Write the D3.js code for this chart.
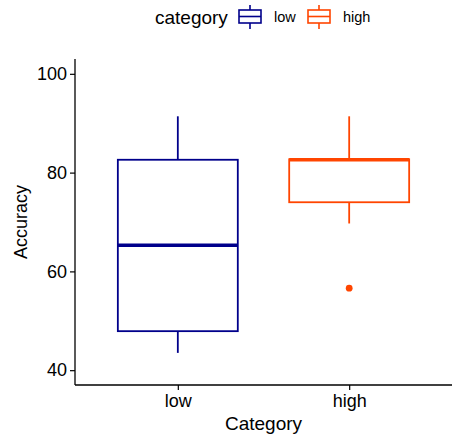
<!DOCTYPE html>
<html>
<head>
<meta charset="utf-8">
<script src="https://cdn.jsdelivr.net/npm/d3@7"></script>
<style>
  body { margin: 0; background: white; }
  text { font-family: "Liberation Sans", Arial, sans-serif; fill: black; }
</style>
</head>
<body>
<svg id="chart" width="454" height="436"></svg>
<script>
// data
var categories = ['low', 'high'];
var colors = ['#00008B', '#FF4500'];
var whiskerLow = [43.5, 69.7];
var q1 = [47.9, 74.0];
var medians = [65.3, 82.6];
var q3 = [82.6, 82.7];
var whiskerHigh = [91.4, 91.4];
var outliers = [[], [56.6]];
var yTicks = [40, 60, 80, 100];

var svg = d3.select('svg#chart');

var mLeft = 75, mRight = 452, mTop = 59, mBottom = 385;

var x = d3.scalePoint()
  .domain(categories)
  .range([mLeft, mRight])
  .padding(0.6);

var y = d3.scaleLinear()
  .domain([37, 103])
  .range([mBottom, mTop]);

var boxWidth = x.step() * 0.7;

var boxes = categories.map(function (c, i) {
  return {
    cat: c, color: colors[i], lo: whiskerLow[i], q1: q1[i], med: medians[i],
    q3: q3[i], hi: whiskerHigh[i], out: outliers[i]
  };
});

var g = svg.selectAll('g.box')
  .data(boxes)
  .enter()
  .append('g')
    .attr('class', 'box');

// whiskers
g.append('line')
  .attr('x1', function (d) { return x(d.cat); })
  .attr('x2', function (d) { return x(d.cat); })
  .attr('y1', function (d) { return y(d.hi); })
  .attr('y2', function (d) { return y(d.q3); })
  .style('stroke', function (d) { return d.color; })
  .style('stroke-width', 1.8);

g.append('line')
  .attr('x1', function (d) { return x(d.cat); })
  .attr('x2', function (d) { return x(d.cat); })
  .attr('y1', function (d) { return y(d.q1); })
  .attr('y2', function (d) { return y(d.lo); })
  .style('stroke', function (d) { return d.color; })
  .style('stroke-width', 1.8);

g.append('rect')
  .attr('x', function (d) { return x(d.cat) - boxWidth / 2; })
  .attr('width', boxWidth)
  .attr('y', function (d) { return y(d.q3); })
  .attr('height', function (d) { return y(d.q1) - y(d.q3); })
  .style('fill', 'white')
  .style('stroke', function (d) { return d.color; })
  .style('stroke-width', 1.8);

g.append('line')
  .attr('x1', function (d) { return x(d.cat) - boxWidth / 2; })
  .attr('x2', function (d) { return x(d.cat) + boxWidth / 2; })
  .attr('y1', function (d) { return y(d.med); })
  .attr('y2', function (d) { return y(d.med); })
  .style('stroke', function (d) { return d.color; })
  .style('stroke-width', 3.4);

g.selectAll('circle')
  .data(function (d) { return d.out.map(function (v) { return {v: v, cat: d.cat, color: d.color}; }); })
  .enter()
  .append('circle')
    .attr('cx', function (d) { return x(d.cat); })
    .attr('cy', function (d) { return y(d.v); })
    .attr('r', 3.4)
    .style('fill', function (d) { return d.color; });

// axes
var yAxis = svg.append('g')
  .attr('transform', 'translate(' + mLeft + ',0)')
  .call(d3.axisLeft(y).tickValues(yTicks).tickSize(5).tickPadding(3));

var xAxis = svg.append('g')
  .attr('transform', 'translate(0,' + mBottom + ')')
  .call(d3.axisBottom(x).tickSize(5).tickPadding(4));

[yAxis, xAxis].forEach(function (a) {
  a.select('.domain').remove();
  a.selectAll('line').style('stroke', 'black').style('stroke-width', 1.2);
  a.selectAll('text').style('font-size', '18px').style('fill', 'black');
});

svg.append('line')
  .attr('x1', mLeft).attr('x2', mLeft)
  .attr('y1', mTop).attr('y2', mBottom)
  .style('stroke', 'black').style('stroke-width', 1.3);
svg.append('line')
  .attr('x1', mLeft).attr('x2', mRight)
  .attr('y1', mBottom).attr('y2', mBottom)
  .style('stroke', 'black').style('stroke-width', 1.3);

svg.append('text')
  .attr('x', (mLeft + mRight) / 2)
  .attr('y', 430)
  .attr('text-anchor', 'middle')
  .style('font-size', '19px')
  .text('Category');

svg.append('text')
  .attr('transform', 'translate(27,' + (mTop + mBottom) / 2 + ') rotate(-90)')
  .attr('text-anchor', 'middle')
  .style('font-size', '18px')
  .text('Accuracy');

// legend
var legend = svg.append('g');

legend.append('text')
  .attr('x', 155)
  .attr('y', 24)
  .style('font-size', '19px')
  .text('category');

var legendItems = [
  {label: 'low', color: colors[0], kx: 239, tx: 274},
  {label: 'high', color: colors[1], kx: 308, tx: 343}
];

var items = legend.selectAll('g.item')
  .data(legendItems)
  .enter()
  .append('g')
    .attr('class', 'item');

items.append('line')
  .attr('x1', function (d) { return d.kx + 11; })
  .attr('x2', function (d) { return d.kx + 11; })
  .attr('y1', 5).attr('y2', 29)
  .style('stroke', function (d) { return d.color; })
  .style('stroke-width', 1.6);

items.append('rect')
  .attr('x', function (d) { return d.kx; })
  .attr('y', 10)
  .attr('width', 22)
  .attr('height', 13)
  .style('fill', 'white')
  .style('stroke', function (d) { return d.color; })
  .style('stroke-width', 1.6);

items.append('line')
  .attr('x1', function (d) { return d.kx; })
  .attr('x2', function (d) { return d.kx + 22; })
  .attr('y1', 16.5).attr('y2', 16.5)
  .style('stroke', function (d) { return d.color; })
  .style('stroke-width', 1.6);

items.append('text')
  .attr('x', function (d) { return d.tx; })
  .attr('y', 22)
  .style('font-size', '14.5px')
  .text(function (d) { return d.label; });
</script>
</body>
</html>
